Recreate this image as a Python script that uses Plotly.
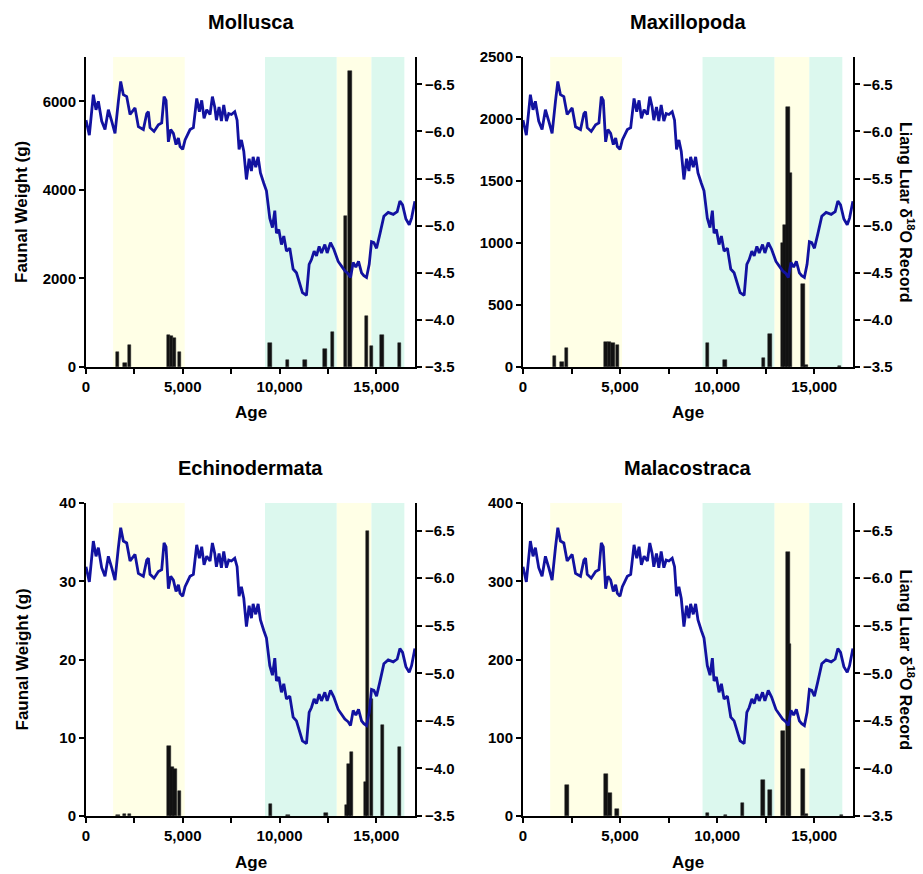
import plotly.graph_objects as go

# ---------------- data ----------------
# Liang Luar d18O record (same curve in every panel)
age = [0, 172, 379, 517, 638, 810, 982, 1155, 1327, 1499, 1672, 1793, 1930, 2103, 2275,
       2533, 2706, 2964, 3137, 3223, 3309, 3516, 3740, 3912, 4033, 4136, 4257, 4378, 4515,
       4653, 4773, 4860, 4997, 5118, 5238, 5376, 5548, 5721, 5859, 5979, 6100, 6238, 6410,
       6531, 6652, 6738, 6876, 6997, 7118, 7256, 7376, 7514, 7686, 7807, 7910, 8031, 8152,
       8290, 8428, 8548, 8635, 8772, 8893, 9014, 9186, 9324, 9496, 9634, 9755, 9841, 9962,
       10100, 10220, 10358, 10530, 10703, 10875, 11047, 11185, 11392, 11530, 11651, 11789,
       11910, 12048, 12168, 12341, 12461, 12634, 12806, 13031, 13203, 13375, 13548, 13668,
       13806, 13944, 14082, 14238, 14358, 14496, 14634, 14754, 14875, 15013, 15185, 15392,
       15616, 15875, 16082, 16220, 16358, 16530, 16702, 16823, 16995]
d18o = [-6.12, -5.96, -6.39, -6.23, -6.32, -6.11, -6.02, -6.23, -6.11, -5.98, -6.32, -6.53,
        -6.39, -6.37, -6.18, -6.25, -6.05, -6.02, -6.19, -6.21, -6.04, -6.00, -6.07, -6.09,
        -6.37, -6.33, -5.89, -6.02, -5.98, -5.86, -5.93, -5.84, -5.81, -5.91, -5.96, -6.02,
        -6.04, -6.35, -6.21, -6.33, -6.14, -6.23, -6.18, -6.37, -6.26, -6.12, -6.26, -6.11,
        -6.28, -6.11, -6.19, -6.18, -6.21, -6.12, -5.81, -5.91, -5.79, -5.49, -5.71, -5.58,
        -5.73, -5.62, -5.73, -5.56, -5.45, -5.37, -5.08, -4.98, -5.16, -4.92, -4.96, -4.80,
        -4.89, -4.73, -4.76, -4.54, -4.50, -4.38, -4.29, -4.26, -4.59, -4.64, -4.73, -4.68,
        -4.78, -4.71, -4.80, -4.71, -4.82, -4.75, -4.62, -4.57, -4.52, -4.49, -4.45, -4.61,
        -4.56, -4.62, -4.50, -4.47, -4.45, -4.59, -4.83, -4.82, -4.76, -4.91, -5.10, -5.14,
        -5.12, -5.15, -5.26, -5.22, -5.07, -5.01, -5.08, -5.26]

mollusca_age = [1640, 2016, 2240, 4250, 4420, 4570, 4820, 9500, 10410, 11310, 12340, 12740,
                13400, 13650, 14490, 14760, 15290, 16200]
mollusca_wt = [350, 80, 500, 730, 690, 660, 350, 550, 150, 150, 400, 780,
               3420, 6690, 1150, 480, 720, 540]

maxillopoda_age = [1630, 2008, 2231, 4273, 4462, 4633, 4873, 9507, 10416, 12390, 12730,
                   13380, 13490, 13640, 13780, 14430, 14590, 16300]
maxillopoda_wt = [90, 40, 150, 200, 200, 195, 180, 190, 55, 72, 267,
                  1000, 1145, 2100, 1565, 668, 20, 5]

echinodermata_age = [1650, 2000, 2250, 4280, 4450, 4600, 4830, 9536, 10443, 12395,
                     13450, 13600, 13730, 14440, 14550, 14740, 15310, 16210]
echinodermata_wt = [0.15, 0.25, 0.3, 8.9, 6.2, 6.0, 3.2, 1.5, 0.1, 0.4,
                    1.4, 6.7, 8.2, 4.4, 36.4, 15.0, 11.6, 8.8]

malacostraca_age = [2262, 4285, 4491, 4833, 9495, 10420, 11312, 12370, 12730, 13400, 13650,
                    13740, 14420, 14600, 16400]
malacostraca_wt = [40, 54, 29, 9, 4, 1, 16, 46, 33, 109, 338, 220, 60, 3, 1]

panel_names = ["Mollusca", "Maxillopoda", "Echinodermata", "Malacostraca"]
panel_ages = [mollusca_age, maxillopoda_age, echinodermata_age, malacostraca_age]
panel_weights = [mollusca_wt, maxillopoda_wt, echinodermata_wt, malacostraca_wt]
left_ranges = [[0, 7000], [0, 2500], [0, 40], [0, 400]]
left_dticks = [2000, 500, 10, 100]

yellow_bands = [(1400, 5100), (12950, 14750)]
teal_bands = [(9250, 12950), (14750, 16450)]

x_tickvals = [0, 5000, 10000, 15000]
x_ticktext = ["0", "5,000", "10,000", "15,000"]
x_minor_tickvals = [2500, 7500, 12500]
d18o_ticks = [-6.5, -6.0, -5.5, -5.0, -4.5, -4.0, -3.5]

# ---------------- geometry ----------------
W, H = 923, 874
FONT = "Liberation Sans, Arial, Helvetica, sans-serif"
x_doms = [[86 / W, 415 / W], [523 / W, 853 / W]]
y_doms = [[1 - 367 / H, 1 - 57 / H], [1 - 816 / H, 1 - 503 / H]]

fig = go.Figure()
layout = dict(
    width=W, height=H,
    margin=dict(l=0, r=0, t=0, b=0, pad=0, autoexpand=False),
    paper_bgcolor="white", plot_bgcolor="white",
    showlegend=False,
    font=dict(family=FONT, color="black"),
    bargap=0,
)
shapes = []
annotations = []

axis_common = dict(
    ticks="outside", ticklen=5, tickwidth=1.5, tickcolor="black",
    showline=True, linecolor="black", linewidth=2, showgrid=False, zeroline=False,
    automargin=False,
    tickfont=dict(family=FONT, size=15, color="black", weight="bold"))

for i in range(4):
    n = i + 1
    r, c = divmod(i, 2)
    xa = "x" if n == 1 else f"x{n}"
    ya = "y" if n == 1 else f"y{n}"
    ya2 = f"y{n + 4}"

    fig.add_trace(go.Bar(
        x=panel_ages[i], y=panel_weights[i], width=180,
        marker=dict(color="#111111", line=dict(color="#222222", width=0.5)),
        xaxis=xa, yaxis=ya))
    fig.add_trace(go.Scatter(
        x=age, y=d18o, mode="lines",
        line=dict(color="#1212A0", width=2.8),
        xaxis=xa, yaxis=ya2))

    layout[f"xaxis{n}"] = dict(
        domain=x_doms[c], anchor=ya, range=[0, 17000],
        tickvals=x_tickvals, ticktext=x_ticktext,
        minor=dict(tickvals=x_minor_tickvals, ticks="outside", ticklen=5, tickwidth=1.5,
                   tickcolor="black", showgrid=False),
        **axis_common)
    layout[f"yaxis{n}"] = dict(
        domain=y_doms[r], anchor=xa, range=left_ranges[i], dtick=left_dticks[i],
        **axis_common)
    layout[f"yaxis{n + 4}"] = dict(
        overlaying=ya, anchor=xa, side="right", range=[-3.5, -6.79],
        tickvals=d18o_ticks, tickformat=".1f", **axis_common)

    for (a, b) in yellow_bands:
        shapes.append(dict(type="rect", xref=xa, yref=f"{ya} domain", x0=a, x1=b, y0=0, y1=1,
                           fillcolor="#FFFFE6", line=dict(width=0), layer="below"))
    for (a, b) in teal_bands:
        shapes.append(dict(type="rect", xref=xa, yref=f"{ya} domain", x0=a, x1=b, y0=0, y1=1,
                           fillcolor="#DCF8EE", line=dict(width=0), layer="below"))

    xc = (x_doms[c][0] + x_doms[c][1]) / 2
    # panel title
    annotations.append(dict(text=f"<b>{panel_names[i]}</b>", xref="paper", yref="paper",
                            x=xc, y=y_doms[r][1] + 35 / H, xanchor="center", yanchor="middle",
                            showarrow=False, font=dict(family=FONT, size=20, color="black")))
    # x title
    annotations.append(dict(text="<b>Age</b>", xref="paper", yref="paper",
                            x=xc, y=y_doms[r][0] - 46 / H, xanchor="center", yanchor="middle",
                            showarrow=False, font=dict(family=FONT, size=17, color="black")))
    yc = (y_doms[r][0] + y_doms[r][1]) / 2
    if c == 0:
        annotations.append(dict(text="<b>Faunal Weight (g)</b>", xref="paper", yref="paper",
                                x=22 / W, y=yc, xanchor="center", yanchor="middle", textangle=-90,
                                showarrow=False, font=dict(family=FONT, size=17, color="black")))
    else:
        annotations.append(dict(text="<b>Liang Luar \u03b4<sup>18</sup>O Record</b>",
                                xref="paper", yref="paper",
                                x=907 / W, y=yc, xanchor="center", yanchor="middle", textangle=90,
                                showarrow=False, font=dict(family=FONT, size=16, color="black")))

layout["shapes"] = shapes
layout["annotations"] = annotations
fig.update_layout(**layout)
fig.write_html(
    "out.html",
    config={"displayModeBar": False},
    post_script="document.body.style.margin='0';document.body.style.padding='0';"
                "document.body.style.overflow='hidden';")
